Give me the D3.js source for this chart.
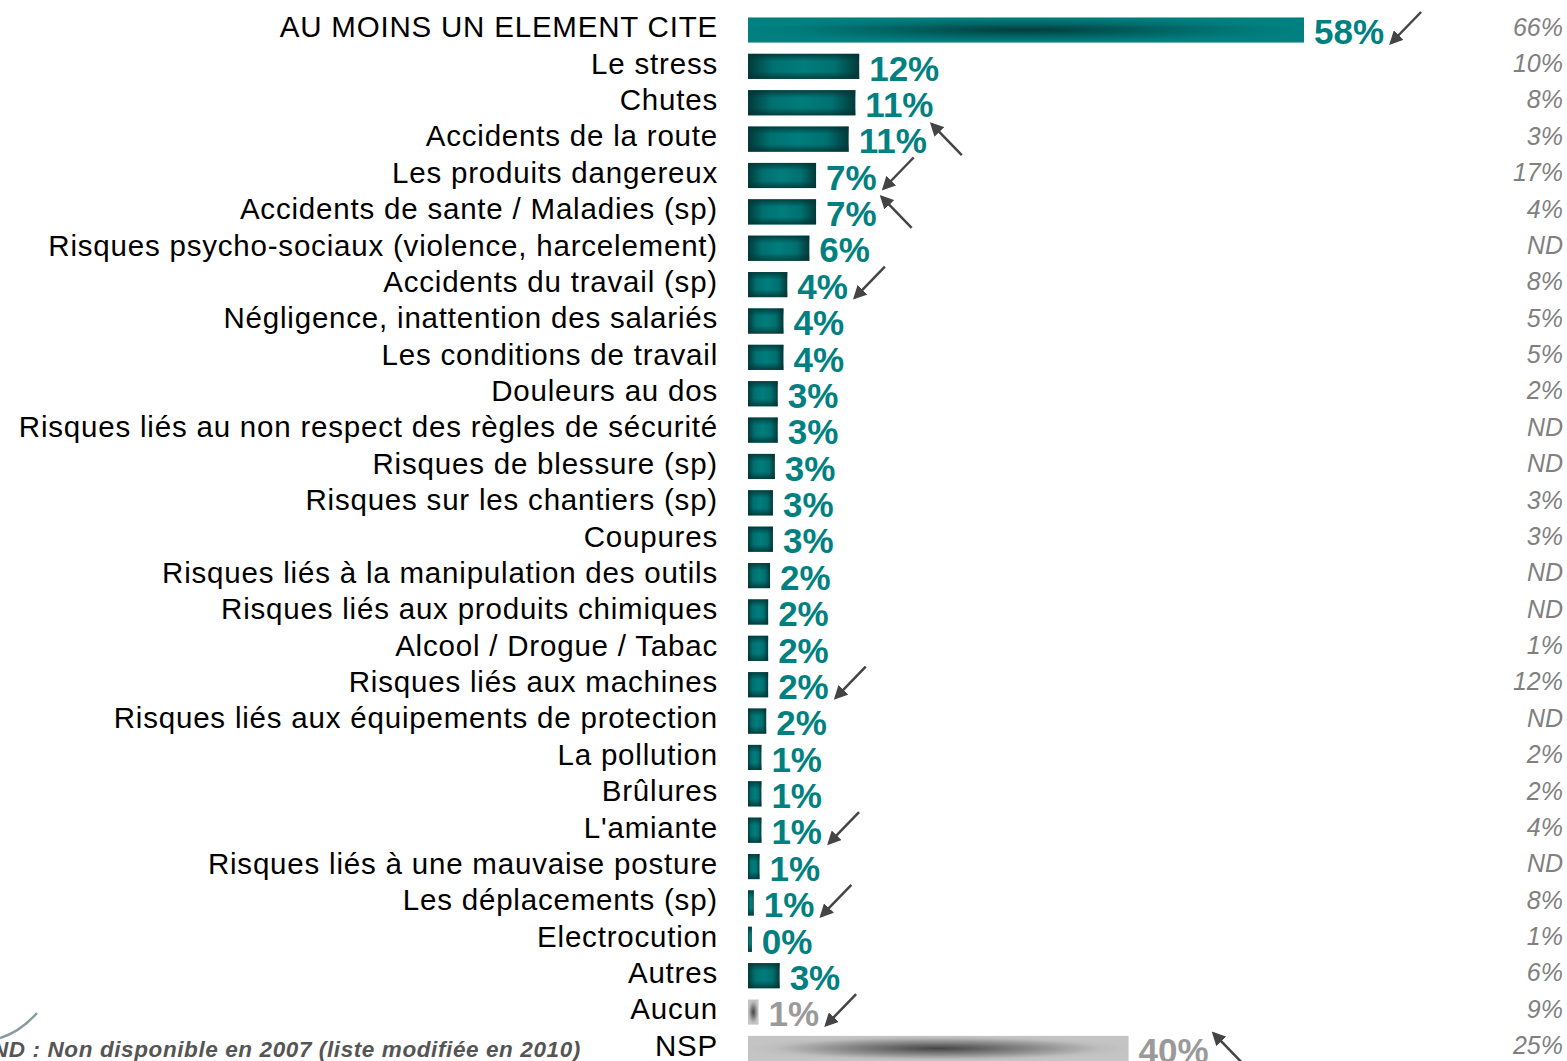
<!DOCTYPE html>
<html>
<head>
<meta charset="utf-8">
<script src="https://cdn.jsdelivr.net/npm/d3@7"></script>
<style>
  body { margin: 0; background: #fff; }
  svg { display: block; }
</style>
</head>
<body>
<div id="chart"></div>
<script>
// risques cites (2010) with the 2007 figures on the right
var categories = [
  "AU MOINS UN ELEMENT CITE", "Le stress", "Chutes", "Accidents de la route",
  "Les produits dangereux", "Accidents de sante / Maladies (sp)",
  "Risques psycho-sociaux (violence, harcelement)", "Accidents du travail (sp)",
  "Négligence, inattention des salariés", "Les conditions de travail",
  "Douleurs au dos", "Risques liés au non respect des règles de sécurité",
  "Risques de blessure (sp)", "Risques sur les chantiers (sp)", "Coupures",
  "Risques liés à la manipulation des outils", "Risques liés aux produits chimiques",
  "Alcool / Drogue / Tabac", "Risques liés aux machines",
  "Risques liés aux équipements de protection", "La pollution", "Brûlures",
  "L'amiante", "Risques liés à une mauvaise posture", "Les déplacements (sp)",
  "Electrocution", "Autres", "Aucun", "NSP"
];
var values2010 = [58, 11.6, 11.2, 10.5, 7.1, 7.1, 6.4, 4.1, 3.7, 3.7, 3.1, 3.1, 2.8, 2.6, 2.6,
  2.3, 2.1, 2.1, 2.1, 1.9, 1.4, 1.4, 1.4, 1.2, 0.6, 0.4, 3.3, 1.1, 39.7];
var labels2007 = ["66%", "10%", "8%", "3%", "17%", "4%", "ND", "8%", "5%", "5%", "2%", "ND", "ND",
  "3%", "3%", "ND", "ND", "1%", "12%", "ND", "2%", "2%", "4%", "ND", "8%", "1%", "6%", "9%", "25%"];
// evolution arrows vs 2007
var trend = ["down", "", "", "up", "down", "up", "", "down", "", "", "", "", "", "", "",
  "", "", "", "down", "", "", "", "down", "", "down", "", "", "down", "up"];
var footnote = "ND : Non disponible en 2007 (liste modifiée en 2010)";

var width = 1567, height = 1061;

var svg = d3.select("#chart").append("svg")
    .attr("width", width)
    .attr("height", height);

var defs = svg.append("defs");

// bevel look for the small bars: horizontal + vertical overlay
var hg = defs.append("linearGradient").attr("id", "tealH");
[[0, "#023a3a"], [0.22, "#007070"], [0.5, "#007d7d"], [0.78, "#007070"], [1, "#023a3a"]].forEach(function(s) {
  hg.append("stop").attr("offset", s[0]).attr("stop-color", s[1]);
});
var vg = defs.append("linearGradient").attr("id", "tealV").attr("x1", 0).attr("y1", 0).attr("x2", 0).attr("y2", 1);
[[0, 0.85], [0.3, 0], [0.7, 0], [1, 0.85]].forEach(function(s) {
  vg.append("stop").attr("offset", s[0]).attr("stop-color", "#023434").attr("stop-opacity", s[1]);
});

// dark streak in the middle for the long bars
function streak(id, stops) {
  var g = defs.append("radialGradient").attr("id", id)
    .attr("cx", "50%").attr("cy", "50%").attr("r", "50%");
  stops.forEach(function(s) {
    g.append("stop").attr("offset", s[0]).attr("stop-color", s[1]);
  });
}
streak("tealStreak", [[0, "#023c3c"], [0.5, "#016464"], [0.85, "#007b7b"], [1, "#008080"]]);
streak("grayStreak", [[0, "#444"], [0.5, "#8a8a8a"], [0.85, "#bdbdbd"], [1, "#c4c4c4"]]);

defs.append("marker")
    .attr("id", "head")
    .attr("viewBox", "0 0 10 10")
    .attr("refX", 8).attr("refY", 5)
    .attr("markerWidth", 5.5).attr("markerHeight", 5.5)
    .attr("markerUnits", "strokeWidth")
    .attr("orient", "auto")
  .append("path")
    .attr("d", "M0,0 L10,5 L0,10 z")
    .attr("fill", "#444");

var y = d3.scaleBand()
    .domain(categories)
    .range([12, 12 + 36.36 * categories.length])
    .paddingInner(0.31)
    .paddingOuter(0.15);

var x = d3.scaleLinear()
    .domain([0, 58])
    .range([748, 1304]);

var rows = svg.append("g").selectAll("g")
  .data(categories)
  .enter()
  .append("g");

function cy(d) { return y(d) + y.bandwidth() / 2; }
function isGray(d) { return d === "Aucun" || d === "NSP"; }

// category labels
rows.append("text")
    .attr("x", 718)
    .attr("y", function(d) { return cy(d) - 3; })
    .attr("dy", "0.35em")
    .attr("text-anchor", "end")
    .style("font-family", "'Liberation Sans', Arial, sans-serif")
    .style("font-size", "29.5px")
    .style("letter-spacing", "0.8px")
    .attr("fill", "#000")
    .text(function(d) { return d; });

// bars
rows.append("rect")
    .attr("x", x(0))
    .attr("y", function(d) { return y(d); })
    .attr("width", function(d, i) { return x(values2010[i]) - x(0); })
    .attr("height", y.bandwidth())
    .attr("fill", function(d, i) {
      if (isGray(d)) return "url(#grayStreak)";
      if (i === 0) return "url(#tealStreak)";
      return "url(#tealH)";
    });

rows.filter(function(d, i) { return i > 0 && !isGray(d); })
  .append("rect")
    .attr("x", x(0))
    .attr("y", function(d) { return y(d); })
    .attr("width", function(d) { return x(values2010[categories.indexOf(d)]) - x(0); })
    .attr("height", y.bandwidth())
    .attr("fill", "url(#tealV)");

// value labels
var valueText = rows.append("text")
    .attr("x", function(d, i) { return x(values2010[i]) + 10; })
    .attr("y", function(d) { return cy(d) + 2; })
    .attr("dy", "0.35em")
    .style("font-family", "'Liberation Sans', Arial, sans-serif")
    .style("font-size", "35px")
    .style("font-weight", "bold")
    .attr("fill", function(d) { return isGray(d) ? "#9a9a9a" : "#008080"; })
    .text(function(d, i) { return Math.round(values2010[i]) + "%"; });

// arrows
valueText.each(function(d, i) {
  if (!trend[i]) return;
  var e = x(values2010[i]) + 10 + this.getComputedTextLength();
  var c = cy(d);
  var p = trend[i] === "down"
    ? [e + 37, c - 18, e + 7, c + 13]
    : [e + 35, c + 16, e + 5, c - 15];
  svg.append("line")
      .attr("x1", p[0]).attr("y1", p[1])
      .attr("x2", p[2]).attr("y2", p[3])
      .attr("stroke", "#444")
      .attr("stroke-width", 2.5)
      .attr("marker-end", "url(#head)");
});

// 2007 column
rows.append("text")
    .attr("x", 1563)
    .attr("y", function(d) { return cy(d) - 3; })
    .attr("dy", "0.35em")
    .attr("text-anchor", "end")
    .style("font-family", "'Liberation Sans', Arial, sans-serif")
    .style("font-size", "25px")
    .style("font-style", "italic")
    .attr("fill", "#808080")
    .text(function(d, i) { return labels2007[i]; });

// little swoosh + note
svg.append("path")
    .attr("d", "M0,1038 Q20,1032 37,1013")
    .attr("fill", "none")
    .attr("stroke", "#8a9aa0")
    .attr("stroke-width", 2.5);

svg.append("text")
    .attr("x", -8)
    .attr("y", 1057)
    .style("font-family", "'Liberation Sans', Arial, sans-serif")
    .style("font-size", "22.5px")
    .style("letter-spacing", "0.6px")
    .style("font-weight", "bold")
    .style("font-style", "italic")
    .attr("fill", "#555")
    .text(footnote);
</script>
</body>
</html>
